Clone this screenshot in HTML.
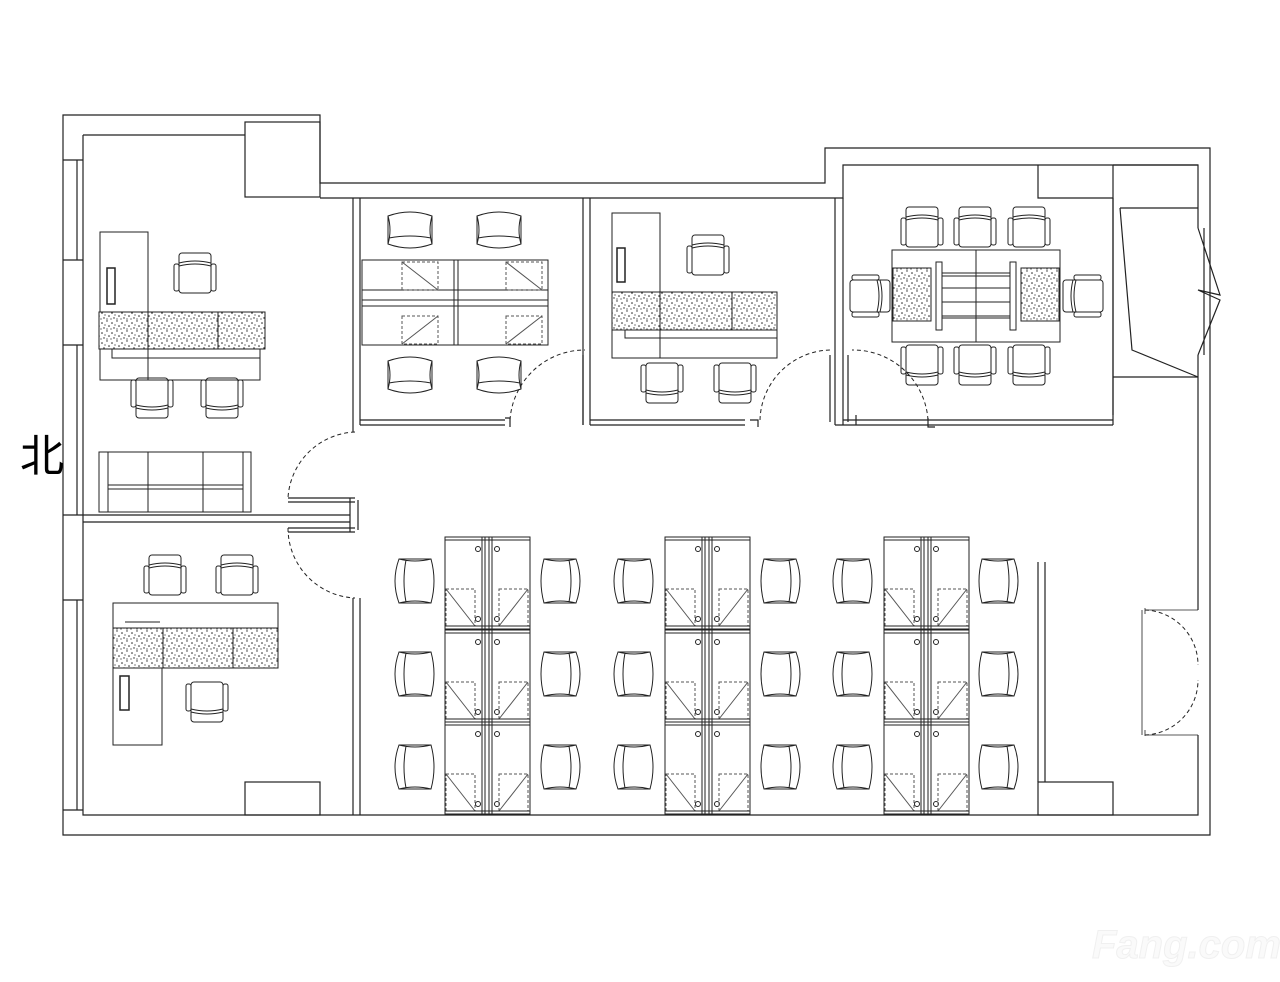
<!DOCTYPE html>
<html><head><meta charset="utf-8"><style>
html,body{margin:0;padding:0;background:#fff;width:1280px;height:982px;overflow:hidden}
svg{display:block}
</style></head><body>
<svg width="1280" height="982" viewBox="0 0 1280 982" xmlns="http://www.w3.org/2000/svg">
<defs>
<pattern id="spk" width="10" height="10" patternUnits="userSpaceOnUse">
<rect width="10" height="10" fill="#fff"/>
<circle cx="2" cy="3" r="0.8" fill="#222"/><circle cx="7" cy="1" r="0.7" fill="#222"/><circle cx="9" cy="6" r="0.8" fill="#222"/><circle cx="4" cy="8" r="0.7" fill="#222"/><circle cx="7" cy="9" r="0.6" fill="#222"/><circle cx="1" cy="9" r="0.6" fill="#222"/><circle cx="5" cy="5" r="0.6" fill="#222"/>
</pattern>
<g id="tubL" fill="none" stroke="#222" stroke-width="1">
<path d="M-16,-22 Q-24,0 -16,22 L16,22 Q22,0 16,-22 Z"/>
<path d="M-9,-21 Q-13,0 -9,21 M-16,-22 Q0,-18 16,-22 M-16,22 Q0,18 16,22"/>
</g>
<g id="tubU" fill="none" stroke="#222" stroke-width="1">
<path d="M-22,-14 Q0,-22 22,-14 L22,14 Q0,22 -22,14 Z"/>
<path d="M-21,8 Q0,4 21,8 M-22,-14 Q-18,0 -22,14 M22,-14 Q18,0 22,14"/>
</g>
<g id="armT" fill="none" stroke="#222" stroke-width="1">
<rect x="-16" y="-20" width="32" height="40" rx="3"/>
<rect x="-21" y="-9" width="5" height="27" rx="2"/>
<rect x="16" y="-9" width="5" height="27" rx="2"/>
<path d="M-16,-10 Q0,-14 16,-10 M-16,-7 Q0,-11 16,-7"/>
</g>
<g id="armB" fill="none" stroke="#222" stroke-width="1">
<rect x="-16" y="-20" width="32" height="40" rx="3"/>
<rect x="-21" y="-18" width="5" height="27" rx="2"/>
<rect x="16" y="-18" width="5" height="27" rx="2"/>
<path d="M-16,10 Q0,14 16,10 M-16,7 Q0,11 16,7"/>
</g>
<g id="armLs" fill="none" stroke="#222" stroke-width="1">
<rect x="-20" y="-16" width="40" height="32" rx="3"/>
<rect x="-18" y="-21" width="27" height="5" rx="2"/>
<rect x="-18" y="16" width="27" height="5" rx="2"/>
<path d="M10,-16 Q14,0 10,16 M7,-16 Q11,0 7,16"/>
</g>
<g id="armRs" fill="none" stroke="#222" stroke-width="1">
<rect x="-20" y="-16" width="40" height="32" rx="3"/>
<rect x="-9" y="-21" width="27" height="5" rx="2"/>
<rect x="-9" y="16" width="27" height="5" rx="2"/>
<path d="M-10,-16 Q-14,0 -10,16 M-7,-16 Q-11,0 -7,16"/>
</g>
<g id="ws" fill="none" stroke="#222" stroke-width="1">
<rect x="0" y="0" width="85" height="92"/>
<line x1="0" y1="3" x2="85" y2="3"/>
<line x1="37" y1="0" x2="37" y2="92"/><line x1="40" y1="0" x2="40" y2="92"/>
<line x1="44" y1="0" x2="44" y2="92"/><line x1="47" y1="0" x2="47" y2="92"/>
<circle cx="33" cy="12" r="2.5"/><circle cx="52" cy="12" r="2.5"/>
<circle cx="33" cy="82" r="2.5"/><circle cx="52" cy="82" r="2.5"/>
<g stroke-dasharray="3,2" stroke="#555"><rect x="1" y="52" width="29" height="37"/><rect x="54" y="52" width="29" height="37"/></g>
<line x1="1" y1="52" x2="30" y2="89" stroke="#555"/><line x1="83" y1="52" x2="54" y2="89" stroke="#555"/>
<line x1="0" y1="89" x2="85" y2="89"/>
</g>
</defs>

<g fill="none" stroke="#222" stroke-width="1.2">
<path d="M63,115 H320 V183 H825 V148 H1210 V835 H63 Z"/>
<path d="M83,135 H245 M83,135 V815 H1198 V735 M1198,610 V355 M1198,228 V165 H843 V198 H320"/>
<rect x="245" y="122" width="75" height="75"/>
<path d="M63,160 H83 M63,260 H83 M63,345 H83 M63,515 H83 M63,600 H83 M63,810 H83 M77,160 V260 M77,345 V515 M77,600 V810"/>
<path d="M1198,228 L1220,295 L1198,290 L1220,300 L1198,355 M1204,228 V355"/>
<path d="M1113,165 V380 M1113,380 V415 M1113,165 H1198 M1038,165 V198 H1113 M1120,208 H1198 M1120,208 L1132,350 L1198,377 M1113,377 H1198"/>
<path d="M353,198 V432 M360,198 V425 M583,198 V425 M590,198 V425 M835,198 V425 M843,198 V425 M1113,198 V425"/>
<path d="M360,420 H505 M360,425 H505 M505,418 H510 V427 M590,420 H745 M590,425 H745 M843,420 H1113 M843,425 H1113 M928,418 V427 H935 M835,425 H856 V415 M830,355 V422 M848,355 V422 M583,355 V425 M750,420 H758 V427"/>
<g stroke-dasharray="4,3" stroke-width="1"><path d="M510,420 A75,75 0 0 1 585,350"/><path d="M760,420 A72,72 0 0 1 830,350"/><path d="M928,420 A75,75 0 0 0 852,350"/><path d="M355,432 A70,70 0 0 0 288,498"/><path d="M288,528 A70,70 0 0 0 355,598"/><path d="M1145,610 A55,55 0 0 1 1198,665 M1145,735 A55,55 0 0 0 1198,680"/></g>
<path d="M1145,610 H1198 M1145,735 H1198 M1145,608 V614 M1145,730 V736 M1142,610 V735" stroke-width="0.8"/>
<path d="M83,515 H350 M83,522 H350 M288,498 H355 M288,502 H355 M288,528 H355 M288,532 H355 M350,498 V532 M358,500 V530 M353,598 V815 M360,598 V815"/>
<rect x="245" y="782" width="75" height="33"/><rect x="1038" y="782" width="75" height="33"/>
<path d="M1038,562 V782 M1045,562 V782"/>
</g>

<g fill="none" stroke="#222" stroke-width="1">
<rect x="100" y="232" width="48" height="148"/>
<rect x="107" y="268" width="8" height="36" stroke-width="1.5"/>
<rect x="99" y="312" width="166" height="37" fill="url(#spk)"/>
<line x1="148" y1="312" x2="148" y2="349"/><line x1="218" y1="312" x2="218" y2="349"/>
<path d="M112,349 V358 H260 V349 M148,358 V380 H260 V349"/>
<rect x="99" y="452" width="152" height="60"/>
<path d="M108,452 V512 M243,452 V512 M148,452 V512 M203,452 V512 M108,485 H243 M108,489 H243"/>
<use href="#armT" x="195" y="273"/>
<use href="#armB" x="152" y="398"/><use href="#armB" x="222" y="398"/>
<use href="#armT" x="165" y="575"/><use href="#armT" x="237" y="575"/>
<rect x="113" y="603" width="165" height="25"/>
<rect x="113" y="628" width="165" height="40" fill="url(#spk)"/>
<line x1="163" y1="628" x2="163" y2="668"/><line x1="233" y1="628" x2="233" y2="668"/>
<path d="M125,622 H160 M113,668 V745 H162 V668"/>
<rect x="120" y="676" width="9" height="34" stroke-width="1.5"/>
<use href="#armB" x="207" y="702"/>
</g>

<g fill="none" stroke="#222" stroke-width="1">
<use href="#tubU" x="410" y="230"/><use href="#tubU" x="499" y="230"/>
<use href="#tubU" x="410" y="375"/><use href="#tubU" x="499" y="375"/>
<rect x="362" y="260" width="186" height="85"/>
<path d="M362,290 H548 M362,300 H548 M362,306 H548 M454,260 V345 M458,260 V345"/>
<g stroke-dasharray="3,2" stroke="#555"><rect x="402" y="262" width="36" height="28"/><rect x="506" y="262" width="36" height="28"/><rect x="402" y="316" width="36" height="28"/><rect x="506" y="316" width="36" height="28"/></g>
<path d="M402,262 L438,290 M506,262 L542,290 M402,344 L438,316 M506,344 L542,316" stroke="#555"/>
<rect x="612" y="213" width="48" height="145"/>
<rect x="617" y="248" width="8" height="34" stroke-width="1.5"/>
<rect x="612" y="292" width="165" height="38" fill="url(#spk)"/>
<line x1="660" y1="292" x2="660" y2="330"/><line x1="732" y1="292" x2="732" y2="330"/>
<path d="M625,330 V338 H777 M660,338 V358 H777 V330"/>
<use href="#armT" x="708" y="255"/>
<use href="#armB" x="662" y="383"/><use href="#armB" x="735" y="383"/>
<rect x="892" y="250" width="168" height="92"/>
<line x1="976" y1="250" x2="976" y2="342"/>
<rect x="893" y="268" width="38" height="53" fill="url(#spk)"/>
<rect x="1021" y="268" width="38" height="53" fill="url(#spk)"/>
<rect x="936" y="262" width="6" height="68"/><rect x="1010" y="262" width="6" height="68"/>
<path d="M942,273 H1010 M942,276 H1010 M942,288 H1010 M942,302 H1010 M942,316 H1010 M942,318 H1010"/>
<use href="#armT" x="922" y="227"/><use href="#armT" x="975" y="227"/><use href="#armT" x="1029" y="227"/>
<use href="#armB" x="922" y="365"/><use href="#armB" x="975" y="365"/><use href="#armB" x="1029" y="365"/>
<use href="#armLs" x="870" y="296"/><use href="#armRs" x="1083" y="296"/>
</g>

<g>
<use href="#ws" x="445" y="537"/><use href="#ws" x="445" y="630"/><use href="#ws" x="445" y="722"/>
<use href="#ws" x="665" y="537"/><use href="#ws" x="665" y="630"/><use href="#ws" x="665" y="722"/>
<use href="#ws" x="884" y="537"/><use href="#ws" x="884" y="630"/><use href="#ws" x="884" y="722"/>
</g>
<g>
<use href="#tubL" x="415" y="581"/><use href="#tubL" x="415" y="674"/><use href="#tubL" x="415" y="767"/>
<use href="#tubL" x="634" y="581"/><use href="#tubL" x="634" y="674"/><use href="#tubL" x="634" y="767"/>
<use href="#tubL" x="853" y="581"/><use href="#tubL" x="853" y="674"/><use href="#tubL" x="853" y="767"/>
<g transform="translate(1120,0) scale(-1,1)">
<use href="#tubL" x="560" y="581"/><use href="#tubL" x="560" y="674"/><use href="#tubL" x="560" y="767"/>
</g>
<g transform="translate(1560,0) scale(-1,1)">
<use href="#tubL" x="780" y="581"/><use href="#tubL" x="780" y="674"/><use href="#tubL" x="780" y="767"/>
</g>
<g transform="translate(1996,0) scale(-1,1)">
<use href="#tubL" x="998" y="581"/><use href="#tubL" x="998" y="674"/><use href="#tubL" x="998" y="767"/>
</g>
</g>

<text x="20" y="471" font-family="'Liberation Sans','Noto Sans CJK SC',sans-serif" font-size="44" fill="#000">北</text>
<text x="1092" y="958" font-family="'Liberation Sans',sans-serif" font-size="40" font-weight="bold" font-style="italic" fill="#fafafa" stroke="#f0f0f0" stroke-width="1">Fang.com</text>
</svg>
</body></html>
